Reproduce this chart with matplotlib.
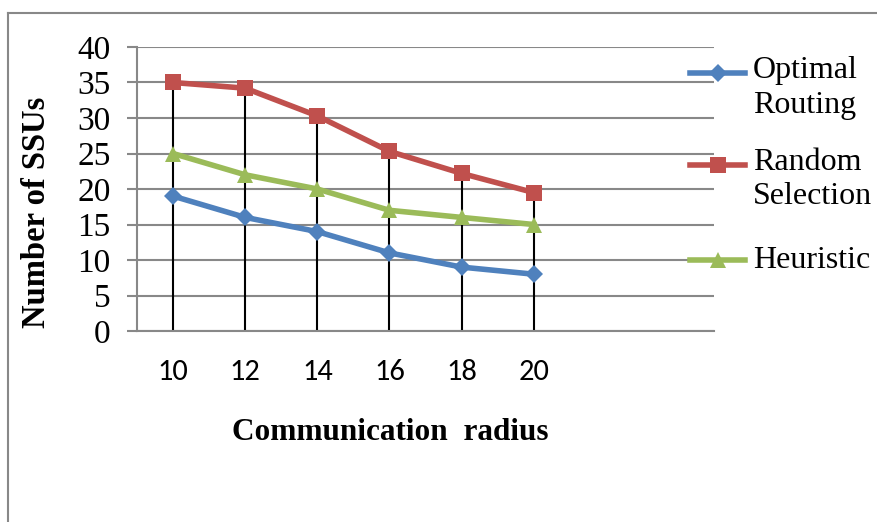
import matplotlib.pyplot as plt
from matplotlib.lines import Line2D

# データ
radius = ['10', '12', '14', '16', '18', '20']
optimal = [19, 16, 14, 11, 9, 8]
random_sel = [35, 34.2, 30.3, 25.3, 22.2, 19.5]
heuristic = [25, 22, 20, 17, 16, 15]

labels = ['Optimal\nRouting', 'Random\nSelection', 'Heuristic']
colors = ['#4F81BD', '#C0504D', '#9BBB59']
markers = ['D', 's', '^']
msizes = [9, 11, 11]

serif = ['Liberation Serif', 'DejaVu Serif']

W, H = 877, 522
fig = plt.figure(figsize=(W / 100, H / 100), dpi=100)
ax = fig.add_axes([137 / W, 1 - 331 / H, (714 - 137) / W, (331 - 47) / H])

x = list(range(len(radius)))
series = [optimal, random_sel, heuristic]

# ドロップライン
top = [max(v) for v in zip(*series)]
ax.vlines(x, 0, top, color='black', lw=1.5, zorder=2)

for vals, c, m, ms in zip(series, colors, markers, msizes):
    ax.plot(x, vals, color=c, lw=4, marker=m, markersize=ms,
            markeredgewidth=0, zorder=3)

ax.set_xlim(-0.5, 7.5)
ax.set_ylim(0, 40)
ax.set_yticks(range(0, 41, 5))
ax.set_xticks(x)
ax.set_xticklabels(radius, family=['Carlito', 'Lato', 'DejaVu Sans'], fontsize=22)
ax.tick_params(axis='x', length=0, pad=20)
ax.tick_params(axis='y', length=7, width=1.5, color='#888888', pad=12,
               labelsize=24)
for t in ax.get_yticklabels():
    t.set_family(serif)

ax.grid(axis='y', color='#888888', lw=1.5)
ax.set_axisbelow(True)
for s in ['top', 'right']:
    ax.spines[s].set_visible(False)
ax.spines['left'].set_color('#888888')
ax.spines['left'].set_linewidth(1.5)
ax.spines['bottom'].set_color('#888888')
ax.spines['bottom'].set_linewidth(1.5)

# 軸ラベル
fig.text(390 / W, 1 - 432 / H, 'Communication  radius', ha='center', va='center',
         family=serif, fontweight='bold', fontsize=22.5)
fig.text(37 / W, 1 - 212 / H, 'Number of SSUs', ha='center', va='center',
         rotation=90, family=serif, fontweight='bold', fontsize=23.5)

# 凡例
leg_y = [73, 165, 260]
for lab, c, m, ms, yy in zip(labels, colors, markers, msizes, leg_y):
    fy = 1 - yy / H
    fig.add_artist(Line2D([690 / W, 745 / W], [fy, fy], color=c, lw=4))
    fig.add_artist(Line2D([717.5 / W], [fy], color=c, marker=m, markersize=ms,
                          markeredgewidth=0))
    if '\n' in lab:
        fig.text(753 / W, 1 - (yy - 17) / H, lab, ha='left', va='top',
                 family=serif, fontsize=23, linespacing=1.25)
    else:
        fig.text(753 / W, fy, lab, ha='left', va='center',
                 family=serif, fontsize=23)

# 外枠
fig.add_artist(Line2D([8 / W, 8 / W], [0, 1 - 13 / H], color='#888888', lw=1.5))
fig.add_artist(Line2D([8 / W, 1], [1 - 13 / H, 1 - 13 / H], color='#888888', lw=1.5))

fig.savefig('out.png', dpi=100)
